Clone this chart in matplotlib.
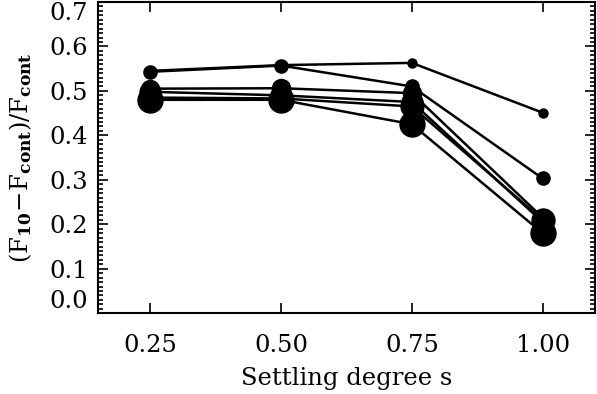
import numpy as np
import matplotlib
matplotlib.use('Agg')
import matplotlib.pyplot as plt
from matplotlib.ticker import MultipleLocator

plt.rcParams['font.family'] = ['DejaVu Serif']
plt.rcParams['mathtext.fontset'] = 'dejavuserif'

# settling degree
s = [0.25, 0.50, 0.75, 1.00]

# (F10 - Fcont)/Fcont for each model, smallest marker first
series_1 = [0.545, 0.558, 0.563, 0.451]
series_2 = [0.543, 0.557, 0.510, 0.303]
series_3 = [0.505, 0.506, 0.495, 0.215]
series_4 = [0.498, 0.490, 0.475, 0.205]
series_5 = [0.485, 0.483, 0.465, 0.210]
series_6 = [0.480, 0.480, 0.425, 0.180]
all_series = [series_1, series_2, series_3, series_4, series_5, series_6]
marker_sizes = [6.5, 9.5, 13, 15, 16.5, 18]

fig = plt.figure(figsize=(5.97, 3.94), dpi=100)
ax = fig.add_axes([0.164, 0.205, 0.8326, 0.790])

for vals, ms in zip(all_series, marker_sizes):
    ax.plot(s, vals, '-o', color='black', lw=1.8, ms=ms)

ax.set_xlim(0.15, 1.10)
ax.set_ylim(0.0, 0.7)
ax.set_xticks(s)
ax.set_xticklabels(['0.25', '0.50', '0.75', '1.00'])
ax.yaxis.set_major_locator(MultipleLocator(0.1))
ax.yaxis.set_minor_locator(MultipleLocator(0.01))

ax.tick_params(which='both', direction='in', top=True, right=True,
               labelsize=17.5, width=1.2)
ax.tick_params(axis='x', which='major', length=7, pad=15)
ax.tick_params(axis='y', which='major', length=7, pad=7)
ax.tick_params(axis='y', which='minor', length=3.5)
for sp in ax.spines.values():
    sp.set_linewidth(1.5)

ax.set_xlabel('Settling degree s', fontsize=17.5, labelpad=7)
ax.set_ylabel(r'$(\mathrm{F}_{\mathbf{10}}\!-\!\mathrm{F}_{\mathbf{cont}})/\mathrm{F}_{\mathbf{cont}}$',
              fontsize=17.5, labelpad=11)

# keep the end labels inside the frame
fig.canvas.draw()
for tick in ax.yaxis.get_major_ticks():
    if abs(tick.get_loc() - 0.0) < 1e-6:
        tick.label1.set_va('bottom')
    elif abs(tick.get_loc() - 0.7) < 1e-6:
        tick.label1.set_va('top')

fig.savefig('out.png', dpi=100)
